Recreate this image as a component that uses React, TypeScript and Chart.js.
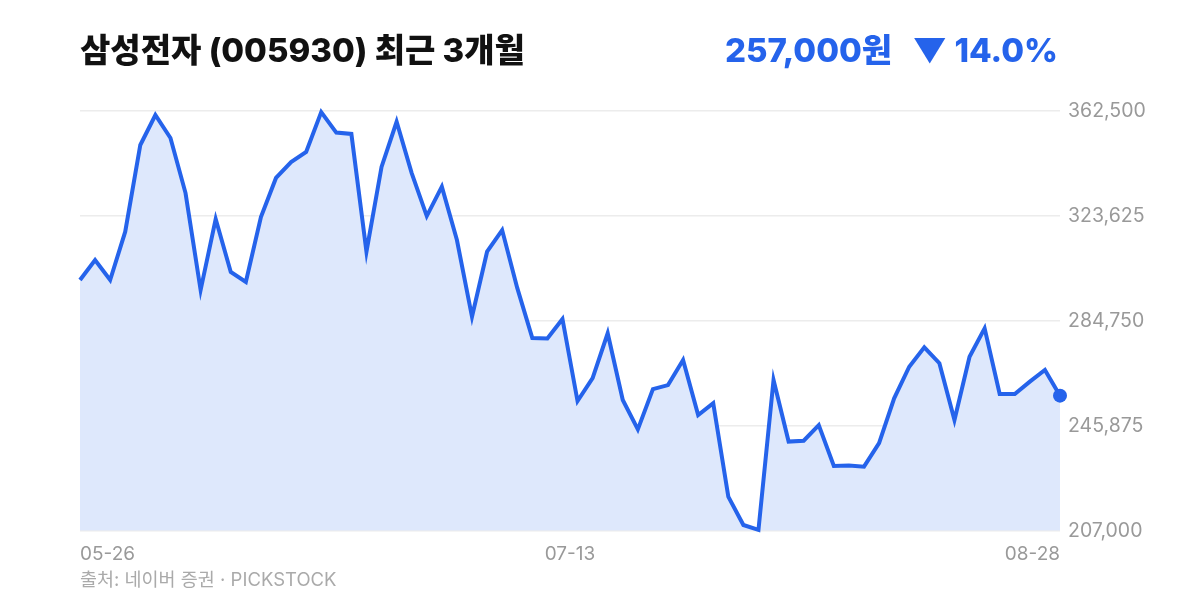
import React, { useEffect, useRef } from "react";
import { Chart, registerables } from "chart.js";

Chart.register(...registerables);

const TITLE = "삼성전자 (005930) 최근 3개월";
const PRICE_TEXT = "257,000원";
const CHANGE_TEXT = "▼ 14.0%";
const SOURCE_TEXT = "출처: 네이버 증권 · PICKSTOCK";

const prices: number[] = [
  299800, 307200, 299800, 317700, 349800, 360900, 352400, 332000, 296100, 322400,
  302800, 299100, 323100, 337600, 343500, 347200, 362000, 354400, 353900, 310300,
  341700, 358400, 339400, 323500, 334400, 314600, 286200, 310300, 318300, 296900,
  278300, 278200, 285400, 255000, 263500, 280100, 255400, 244500, 259400, 260900,
  270200, 249800, 254200, 219600, 209100, 207300, 262800, 240000, 240300, 246100,
  231000, 231100, 230700, 239400, 256000, 267700, 274900, 269000, 248000, 271400,
  281900, 257600, 257600, 262200, 266500, 257000,
];

const xTickPositions: number[] = [0, 32.5, 65];
const xTickLabels: string[] = ["05-26", "07-13", "08-28"];

const yMin = 207000;
const yMax = 362500;
const yStep = 38875;

const FONT = "Inter, 'Noto Sans CJK KR', 'Noto Sans', sans-serif";

export default function App() {
  const ref = useRef<HTMLCanvasElement | null>(null);

  useEffect(() => {
    if (!ref.current) return;
    const data = prices.map((v, i) => ({ x: i, y: v }));
    const last = prices.length - 1;
    const chart = new Chart(ref.current, {
      type: "line",
      data: {
        datasets: [
          {
            data,
            borderColor: "#2563eb",
            borderWidth: 4,
            backgroundColor: "#dee8fc",
            fill: "start",
            tension: 0,
            clip: false,
            pointRadius: prices.map((_, i) => (i === last ? 7 : 0)),
            pointHoverRadius: 0,
            pointBackgroundColor: "#2563eb",
            pointBorderWidth: 0,
          } as any,
        ],
      },
      options: {
        responsive: false,
        animation: false,
        devicePixelRatio: 1,
        layout: { padding: { left: 80, top: 110.7, right: 0, bottom: 0 } },
        plugins: { legend: { display: false }, tooltip: { enabled: false } },
        scales: {
          x: {
            type: "linear",
            min: 0,
            max: prices.length - 1,
            grid: { display: false, drawTicks: false },
            border: { display: false },
            afterBuildTicks: (scale: any) => {
              scale.ticks = xTickPositions.map((v) => ({ value: v }));
            },
            afterFit: (scale: any) => {
              scale.height = 600 - 530.7;
            },
            ticks: {
              align: "inner",
              padding: 12,
              maxRotation: 0,
              autoSkip: false,
              color: "#999999",
              font: { family: FONT, size: 19 },
              callback: (v: any) => {
                const idx = xTickPositions.indexOf(Number(v));
                return idx >= 0 ? xTickLabels[idx] : "";
              },
            },
          },
          y: {
            position: "right",
            min: yMin,
            max: yMax,
            grid: { color: "#ececec", lineWidth: 1.5, drawTicks: false },
            border: { display: false },
            afterFit: (scale: any) => {
              scale.width = 140;
            },
            ticks: {
              stepSize: yStep,
              padding: 8,
              color: "#999999",
              font: { family: FONT, size: 19.5 },
              callback: (v: any) => Number(v).toLocaleString("en-US"),
            },
          },
        },
      },
    });
    return () => chart.destroy();
  }, []);

  return (
    <div style={{ position: "absolute", left: 0, top: 0, width: 1200, height: 600, background: "#fff", fontFamily: FONT }}>
      <canvas ref={ref} width={1200} height={600} style={{ position: "absolute", left: 0, top: 0, width: 1200, height: 600 }} />
      <div style={{ position: "absolute", left: 80, top: 32, fontSize: 33, lineHeight: "36px", fontWeight: 800, color: "#111111", whiteSpace: "nowrap" }}>
        {TITLE}
      </div>
      <div style={{ position: "absolute", right: 142, top: 32, fontSize: 33, lineHeight: "36px", fontWeight: 800, color: "#2563eb", whiteSpace: "nowrap" }}>
        <span>{PRICE_TEXT}</span>
        <span style={{ marginLeft: 20 }}>{CHANGE_TEXT}</span>
      </div>
      <div style={{ position: "absolute", left: 80, top: 567, fontSize: 18.5, lineHeight: "24px", color: "#aaaaaa", whiteSpace: "nowrap" }}>
        {SOURCE_TEXT}
      </div>
    </div>
  );
}
